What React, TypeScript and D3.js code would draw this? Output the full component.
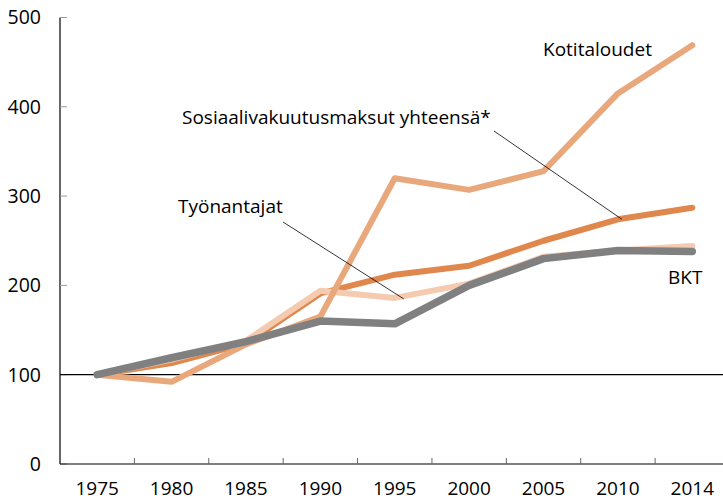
import React, { useEffect, useRef } from "react";
import * as d3 from "d3";

const years = ["1975", "1980", "1985", "1990", "1995", "2000", "2005", "2010", "2014"];
const kotitaloudet = [100, 92, 134, 165, 320, 307, 328, 415, 469];
const sosiaali = [100, 113, 135, 191, 212, 222, 250, 274, 287];
const tyonantajat = [100, 117, 138, 194, 186, 202, 232, 239, 244];
const bkt = [100, 119, 137, 160, 157, 200, 230, 239, 238];
const yTicks = [0, 100, 200, 300, 400, 500];

const FONT = "'Open Sans', 'Liberation Sans', sans-serif";

const drawChart = (node: SVGSVGElement) => {
  const width = 723;
  const height = 500;
  const left = 60;
  const top = 17.5;
  const bottom = 464;

  const svg = d3.select(node);
  svg.selectAll("*").remove();
  svg.attr("width", width).attr("height", height);

  const x = d3.scaleBand().domain(years).range([left, 729.5]);
  const y = d3.scaleLinear().domain([0, 500]).range([bottom, top]);
  const cx = (yr: string) => (x(yr) as number) + x.bandwidth() / 2;

  // y axis
  svg.append("line")
    .attr("x1", left).attr("x2", left)
    .attr("y1", y(500)).attr("y2", y(0))
    .attr("stroke", "#000").attr("stroke-width", 1.2);
  svg.selectAll(".ytick")
    .data(yTicks)
    .enter()
    .append("line")
    .attr("x1", left).attr("x2", left + 7)
    .attr("y1", (d) => y(d)).attr("y2", (d) => y(d))
    .attr("stroke", "#999").attr("stroke-width", 1);
  svg.selectAll(".ylab")
    .data(yTicks)
    .enter()
    .append("text")
    .attr("x", 41)
    .attr("y", (d) => y(d))
    .attr("dy", "0.35em")
    .attr("text-anchor", "end")
    .attr("font-family", FONT)
    .attr("font-size", 19.5)
    .text((d) => d);

  // x axis
  svg.append("line")
    .attr("x1", left).attr("x2", width)
    .attr("y1", y(0)).attr("y2", y(0))
    .attr("stroke", "#000").attr("stroke-width", 1.2);
  svg.selectAll(".xtick")
    .data(years.slice(1))
    .enter()
    .append("line")
    .attr("x1", (d) => x(d) as number).attr("x2", (d) => x(d) as number)
    .attr("y1", y(0)).attr("y2", y(0) - 6)
    .attr("stroke", "#666").attr("stroke-width", 1);
  svg.selectAll(".xlab")
    .data(years)
    .enter()
    .append("text")
    .attr("x", (d) => cx(d))
    .attr("y", 494.5)
    .attr("text-anchor", "middle")
    .attr("font-family", FONT)
    .attr("font-size", 19)
    .text((d) => d);

  // 100 reference line
  svg.append("line")
    .attr("x1", left).attr("x2", width)
    .attr("y1", y(100)).attr("y2", y(100))
    .attr("stroke", "#000").attr("stroke-width", 1.2);

  const line = d3.line<number>()
    .x((_, i) => cx(years[i]))
    .y((d) => y(d));

  const series = [
    { values: sosiaali, color: "#e0874d", w: 6 },
    { values: tyonantajat, color: "#f4cbb0", w: 6 },
    { values: kotitaloudet, color: "#e9a87c", w: 6 },
    { values: bkt, color: "#808080", w: 7.5 },
  ];
  svg.selectAll(".series")
    .data(series)
    .enter()
    .append("path")
    .attr("d", (d) => line(d.values))
    .attr("fill", "none")
    .attr("stroke", (d) => d.color)
    .attr("stroke-width", (d) => d.w)
    .attr("stroke-linejoin", "round")
    .attr("stroke-linecap", "round");

  // leader lines
  svg.append("line")
    .attr("x1", 494).attr("y1", 131)
    .attr("x2", cx("2010") + 4).attr("y2", y(sosiaali[7]))
    .attr("stroke", "#000").attr("stroke-width", 0.8);
  svg.append("line")
    .attr("x1", 283).attr("y1", 222)
    .attr("x2", cx("1995") + 9).attr("y2", y(tyonantajat[4]) + 1)
    .attr("stroke", "#000").attr("stroke-width", 0.8);

  const labels = [
    { text: "Kotitaloudet", x: 543, y: 56 },
    { text: "Sosiaalivakuutusmaksut yhteensä*", x: 182, y: 124 },
    { text: "Työnantajat", x: 178, y: 213 },
    { text: "BKT", x: 668, y: 284 },
  ];
  svg.selectAll(".lab")
    .data(labels)
    .enter()
    .append("text")
    .attr("x", (d) => d.x)
    .attr("y", (d) => d.y)
    .attr("font-family", FONT)
    .attr("font-size", 19)
    .text((d) => d.text);
};

const App = () => {
  const ref = useRef<SVGSVGElement>(null);
  useEffect(() => {
    if (ref.current) drawChart(ref.current);
  });
  return (
    <svg ref={ref} style={{ position: "absolute", left: 0, top: 0, background: "#fff" }}></svg>
  );
};

export default App;
